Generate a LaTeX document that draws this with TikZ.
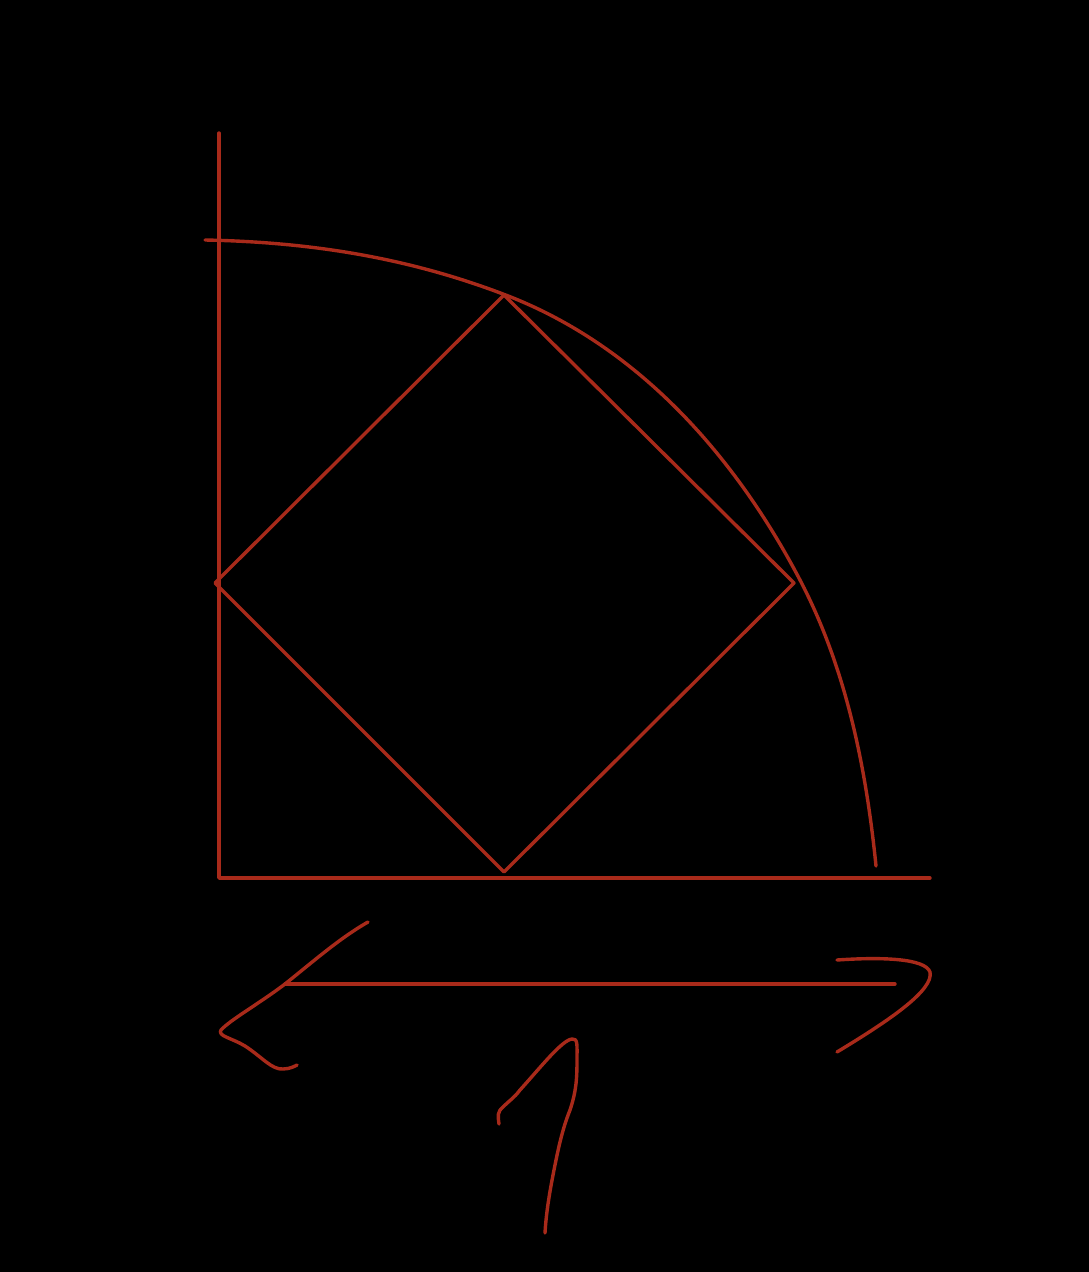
\documentclass[tikz,border=0pt]{standalone}
\begin{document}
\begin{tikzpicture}[x=1pt,y=-1pt,
  ink/.style={draw=redink,line width=3.4pt,line cap=round,line join=round}]
\definecolor{redink}{RGB}{168,42,26}
\fill[black] (0,0) rectangle (1089,1272);
\useasboundingbox (0,0) rectangle (1089,1272);
% axes
\coordinate (O) at (219,878);
\coordinate (Ytop) at (219,133);
\coordinate (Xend) at (930,878);
\draw[ink] (Ytop) -- (O) -- (Xend);
% arc
\coordinate (P0) at (205,240);
\coordinate (P1) at (503,294);
\coordinate (P2) at (800,580);
\coordinate (P3) at (876,866);
\draw[ink] (P0) .. controls (305,242) and (403,256) .. (P1)
  .. controls (636,344) and (734,454) .. (P2)
  .. controls (846,668) and (866,767) .. (P3);
% diamond
\coordinate (T) at (504,295);
\coordinate (R) at (794,583);
\coordinate (B) at (504,872);
\coordinate (L) at (215,583);
\draw[ink] (T) -- (R) -- (B) -- (L) -- cycle;
% double arrow
\coordinate (A1) at (285,984);
\coordinate (A2) at (895,984);
\draw[ink] (A1) -- (A2);
\draw[ink] (368,922) .. controls (340,938) and (315,960) .. (285,984)
  .. controls (260,1003) and (230,1020) .. (221,1030)
  .. controls (217,1036) and (232,1038) .. (245,1046)
  .. controls (262,1057) and (272,1070) .. (283,1069)
  .. controls (290,1069) and (295,1066) .. (297,1065);
\draw[ink] (837,960) .. controls (880,957) and (925,958) .. (930,972)
  .. controls (934,990) and (890,1020) .. (837,1052);
% numeral 1
\draw[ink] (499,1124) .. controls (498,1116) and (497,1112) .. (503,1107)
  .. controls (510,1100) and (514,1098) .. (520,1090)
  .. controls (540,1068) and (562,1040) .. (572,1039)
  .. controls (578,1038) and (577,1045) .. (577,1060)
  .. controls (577,1080) and (576,1092) .. (570,1110)
  .. controls (562,1130) and (558,1150) .. (554,1170)
  .. controls (549,1195) and (546,1215) .. (545,1233);
\end{tikzpicture}
\end{document}
